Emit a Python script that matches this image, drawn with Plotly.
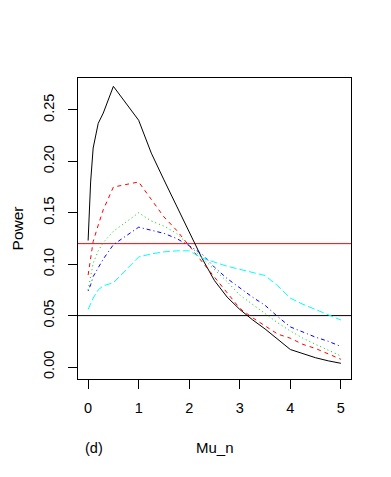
import plotly.graph_objects as go

mu = [0, 0.05, 0.1, 0.2, 0.3, 0.5, 1, 1.25, 1.5, 1.75, 2, 2.25, 2.5, 2.75, 3, 3.25, 3.5, 3.75, 4, 4.25, 4.5, 4.75, 5]

power_black = [0.123, 0.180, 0.213, 0.237, 0.247, 0.273, 0.240, 0.208, 0.182, 0.157, 0.132, 0.106, 0.084, 0.068, 0.056, 0.046, 0.037, 0.027, 0.017, 0.013, 0.009, 0.006, 0.0036]
power_red = [0.0895, 0.106, 0.122, 0.138, 0.153, 0.175, 0.180, 0.163, 0.146, 0.133, 0.118, 0.103, 0.087, 0.073, 0.057, 0.048, 0.040, 0.032, 0.028, 0.022, 0.018, 0.013, 0.0075]
power_green = [0.075, 0.090, 0.101, 0.113, 0.121, 0.132, 0.150, 0.142, 0.137, 0.130, 0.118, 0.107, 0.095, 0.083, 0.070, 0.061, 0.052, 0.043, 0.035, 0.028, 0.022, 0.016, 0.0107]
power_blue = [0.074, 0.080, 0.088, 0.097, 0.105, 0.119, 0.136, 0.133, 0.130, 0.125, 0.118, 0.110, 0.097, 0.086, 0.077, 0.068, 0.060, 0.049, 0.039, 0.034, 0.029, 0.025, 0.020]
power_cyan = [0.056, 0.062, 0.067, 0.075, 0.079, 0.082, 0.107, 0.110, 0.112, 0.113, 0.113, 0.106, 0.102, 0.098, 0.095, 0.092, 0.089, 0.079, 0.067, 0.061, 0.056, 0.051, 0.0457]

ref_lines = [0.12, 0.05]
ref_colors = ["#FF0000", "#000000"]

x_ticks = [0, 1, 2, 3, 4, 5]
y_ticks = [0.00, 0.05, 0.10, 0.15, 0.20, 0.25]
y_ticktext = ["0.00", "0.05", "0.10", "0.15", "0.20", "0.25"]

series = [
    (power_black, "#000000", "solid"),
    (power_red, "#FF0000", "4px,4px"),
    (power_green, "#00CD00", "1px,3px"),
    (power_blue, "#0000FF", "1px,3px,4px,3px"),
    (power_cyan, "#00FFFF", "7px,3px"),
]

FONT = "Liberation Sans, Arial, sans-serif"

fig = go.Figure()
for v, c in zip(ref_lines, ref_colors):
    fig.add_trace(go.Scatter(x=[-0.2, 5.2], y=[v, v], mode="lines",
                             line=dict(color=c, width=1),
                             showlegend=False, hoverinfo="skip"))

for vals, col, dash in series:
    fig.add_trace(go.Scatter(x=mu, y=vals, mode="lines",
                             line=dict(color=col, width=1, dash=dash),
                             showlegend=False, hoverinfo="skip"))

fig.update_layout(
    width=383, height=469,
    margin=dict(l=70, r=40, t=70, b=98),
    paper_bgcolor="white", plot_bgcolor="white",
    font=dict(family=FONT, size=15, color="black"),
    xaxis=dict(range=[-0.2, 5.2], tickvals=x_ticks, ticks="outside", ticklen=9,
               tickcolor="black", showline=True, linecolor="black", linewidth=1,
               mirror=True, showgrid=False, zeroline=False,
               tickfont=dict(size=14.5), ticklabelstandoff=7),
    yaxis=dict(range=[-0.01167, 0.2811], tickvals=y_ticks, ticktext=y_ticktext,
               ticks="outside", ticklen=9, tickcolor="black", showline=True,
               linecolor="black", linewidth=1, mirror=True, showgrid=False,
               zeroline=False, tickangle=-90, tickfont=dict(size=14.5),
               ticklabelstandoff=8),
    annotations=[
        dict(text="Mu_n", xref="paper", yref="paper", x=0.5, y=-0.229,
             xanchor="center", yanchor="middle", showarrow=False, font=dict(size=15)),
        dict(text="(d)", xref="paper", yref="paper", x=0.0586, y=-0.229,
             xanchor="center", yanchor="middle", showarrow=False, font=dict(size=14.5)),
        dict(text="Power", xref="paper", yref="paper", x=-0.22, y=0.5,
             xanchor="center", yanchor="middle", textangle=-90, showarrow=False,
             font=dict(size=15.5)),
    ],
)

fig.write_html("out.html")
